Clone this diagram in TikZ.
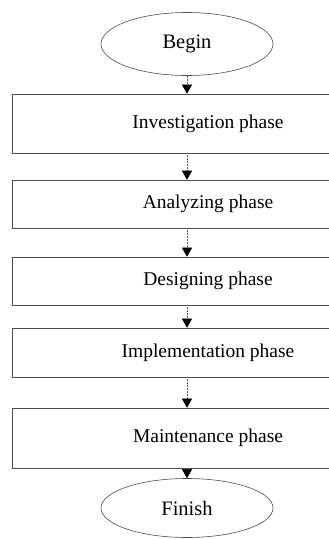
\documentclass[tikz,border=0pt]{standalone}
\usepackage{fontspec}
\setmainfont{Liberation Serif}
\usetikzlibrary{shapes.geometric,arrows.meta}
\tikzset{
  lineclr/.style={draw=black!70, line width=0.6pt},
  oval/.style={ellipse, lineclr, minimum width=172pt, minimum height=63pt, inner sep=0pt, font=\fontsize{20.5}{24}\selectfont},
  phase/.style={rectangle, lineclr, minimum width=392pt, inner sep=0pt, font=\fontsize{19.5}{23}\selectfont},
  flow/.style={draw=black!65, line width=0.5pt, densely dotted, -{Triangle[width=10pt,length=9pt,color=black]}},
}
\begin{document}
\begin{tikzpicture}[x=1pt,y=-1pt]
\useasboundingbox (0,0) rectangle (329,539);
\clip (0,0) rectangle (329,539);
\node[oval] (begin) at (187,44) {Begin};
\node[phase, minimum height=59pt] (inv) at (208,123.5) {Investigation phase};
\node[phase, minimum height=48pt] (ana) at (208,204) {Analyzing phase};
\node[phase, minimum height=48pt] (des) at (208,281) {Designing phase};
\node[phase, minimum height=49pt] (imp) at (208,352.5) {Implementation phase};
\node[phase, minimum height=60pt] (mai) at (208,438) {Maintenance phase};
\node[oval, minimum height=59pt] (fin) at (187,508) {Finish};
\draw[flow] (begin.south) -- (inv.north -| begin.south);
\draw[flow] (inv.south -| begin.south) -- (ana.north -| begin.south);
\draw[flow] (ana.south -| begin.south) -- (des.north -| begin.south);
\draw[flow] (des.south -| begin.south) -- (imp.north -| begin.south);
\draw[flow] (imp.south -| begin.south) -- (mai.north -| begin.south);
\draw[flow] (mai.south -| begin.south) -- (fin.north);
\end{tikzpicture}
\end{document}
